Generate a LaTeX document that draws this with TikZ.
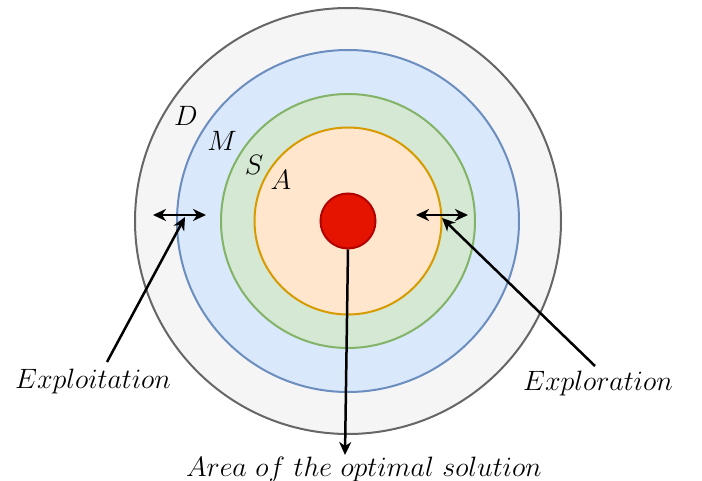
\documentclass[tikz,border=0pt]{standalone}
\usepackage{graphicx}
\usetikzlibrary{arrows.meta}
\definecolor{dfill}{HTML}{F5F5F5}\definecolor{dline}{HTML}{666666}
\definecolor{mfill}{HTML}{DAE8FC}\definecolor{mline}{HTML}{6C8EBF}
\definecolor{sfill}{HTML}{D5E8D4}\definecolor{sline}{HTML}{82B366}
\definecolor{afill}{HTML}{FFE6CC}\definecolor{aline}{HTML}{D79B00}
\definecolor{rfill}{HTML}{E51400}\definecolor{rline}{HTML}{B20000}
\newcommand{\biglbl}[1]{\scalebox{1.35}{\fontsize{21}{25}\selectfont$#1$}}
\begin{document}
\begin{tikzpicture}[x=1pt,y=-1pt,
  ring/.style={circle,line width=2pt,inner sep=0pt},
  lbl/.style={inner sep=0pt},
  arr/.style={line width=2.5pt,-{Stealth[length=13pt,width=12pt,inset=4pt]}},
  darr/.style={line width=2.5pt,{Stealth[length=13pt,width=12pt,inset=4pt]}-{Stealth[length=13pt,width=12pt,inset=4pt]}}]
\useasboundingbox (0,0) rectangle (702,481);
\node[ring,draw=dline,fill=dfill,minimum size=426pt] (D) at (348,221) {};
\node[ring,draw=mline,fill=mfill,minimum size=342pt] (M) at (348,221) {};
\node[ring,draw=sline,fill=sfill,minimum size=254pt] (S) at (348,221) {};
\node[ring,draw=aline,fill=afill,minimum size=187pt] (A) at (348,221) {};
\node[ring,draw=rline,fill=rfill,minimum size=55pt] (R) at (348,221) {};
\node[lbl] (dl) at (186,116) {\biglbl{D}};
\node[lbl] (ml) at (222,141) {\biglbl{M}};
\node[lbl] (sl) at (254,165) {\biglbl{S}};
\node[lbl] (al) at (281,180) {\biglbl{A}};
\coordinate (l1) at (153,215); \coordinate (l2) at (206,215);
\coordinate (r1) at (416,215); \coordinate (r2) at (468,215);
\draw[darr] (l1) -- (l2);
\draw[darr] (r1) -- (r2);
\node[lbl] (expl) at (93,381) {\biglbl{Exploitation}};
\node[lbl] (expr) at (598,383) {\biglbl{Exploration}};
\node[lbl] (opt) at (364,469) {\biglbl{Area\ of\ the\ optimal\ solution}};
\coordinate (t1) at (185,217); \coordinate (s1) at (107,362);
\coordinate (t2) at (442,218); \coordinate (s2) at (595,366);
\coordinate (t3) at (345,455);
\draw[arr] (s1) -- (t1);
\draw[arr] (s2) -- (t2);
\draw[arr] (R.south) -- (t3);
\end{tikzpicture}
\end{document}
